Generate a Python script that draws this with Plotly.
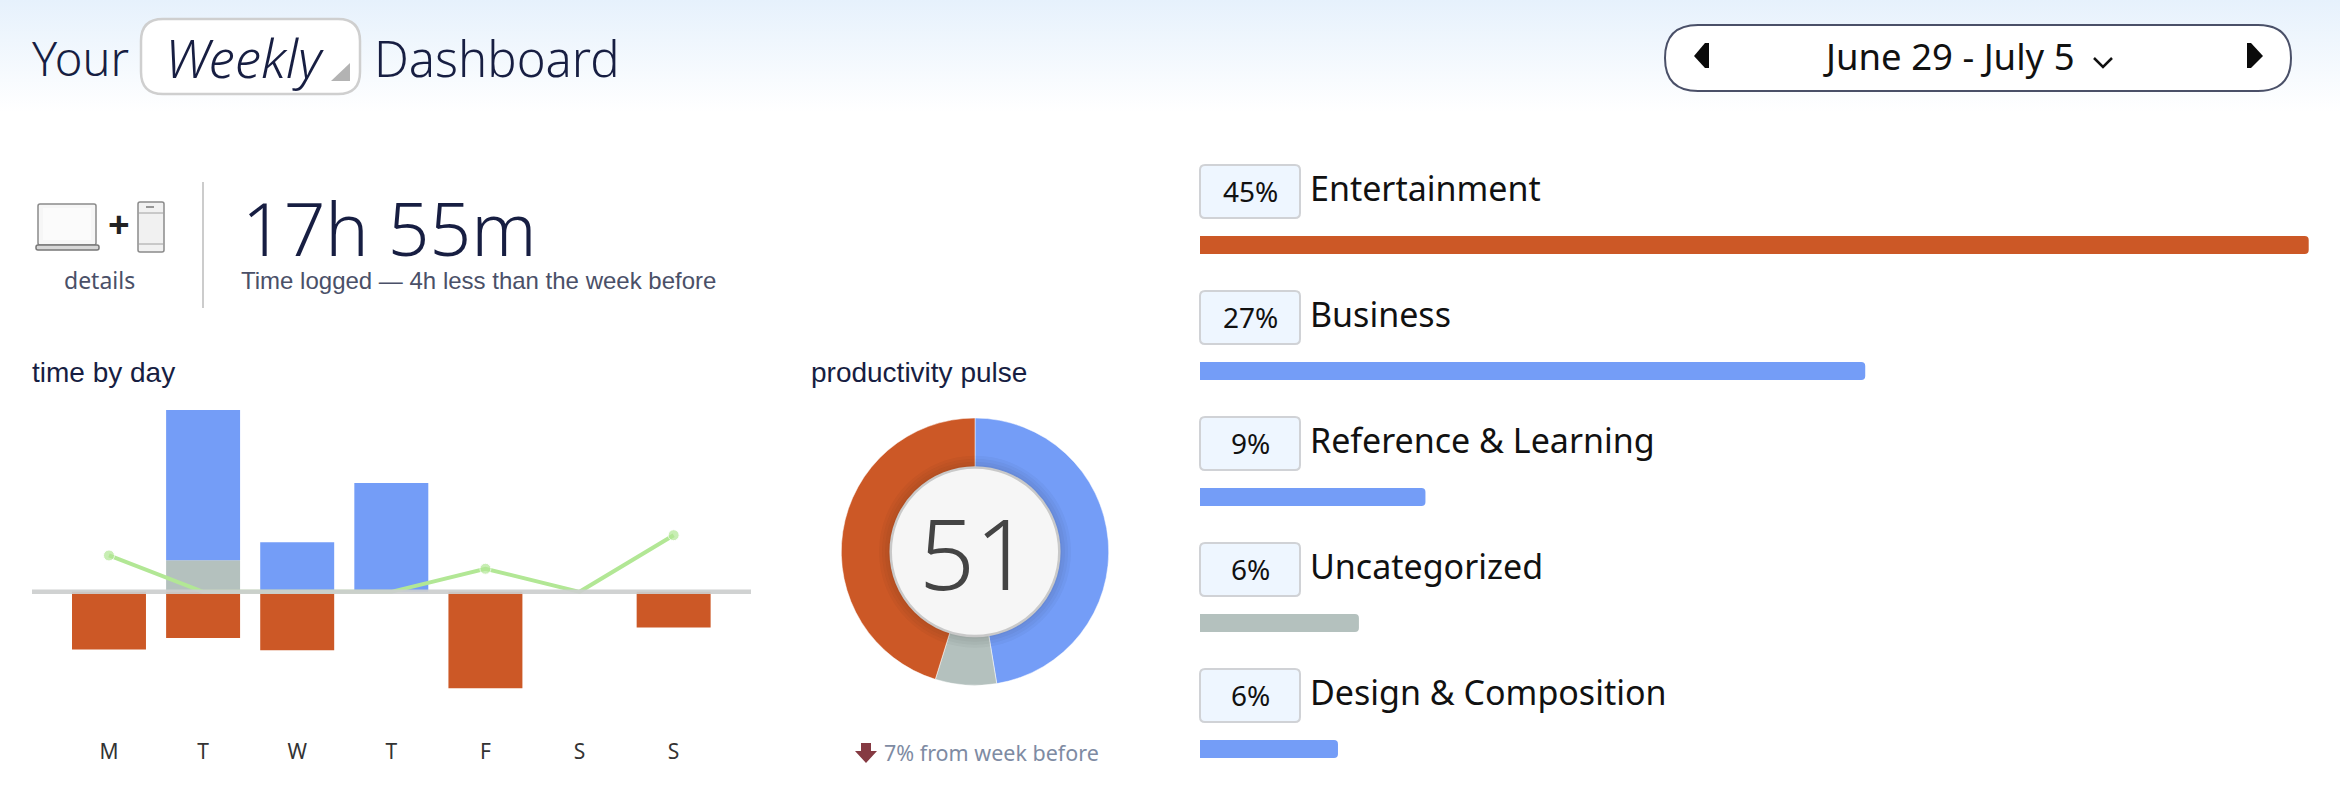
import plotly.graph_objects as go

# ---- data ----
days = ["M", "T", "W", "T", "F", "S", "S"]
productive_hours = [0, 4.30, 1.42, 3.11, 0, 0, 0]
neutral_hours = [0, 0.90, 0, 0, 0, 0, 0]
distracting_hours = [-1.65, -1.32, -1.67, 0, -2.76, 0, -1.02]
pulse_trend = [1.04, 0, 0, 0, 0.66, 0, 1.62]

pulse_labels = ["Productive", "Neutral", "Distracting"]
pulse_shares = [47.4, 7.4, 45.2]
pulse_score = 51

categories = ["Entertainment", "Business", "Reference & Learning", "Uncategorized", "Design & Composition"]
category_shares = [45, 27, 9.15, 6.45, 5.6]

# ---- styling ----
W, H = 2340, 794
BLUE, ORANGE, GREY, GREEN = "#749df7", "#cc5826", "#b4c1be", "#b2e795"
NAVY, SLATE = "#171e42", "#4a5068"
ROUND = "Noto Sans"
PLAIN = "Liberation Sans"
category_colors = [ORANGE, BLUE, BLUE, GREY, BLUE]


def rounded(x0, y0, x1, y1, r):
    return (f"M{x0+r},{y0} L{x1-r},{y0} Q{x1},{y0} {x1},{y0+r} L{x1},{y1-r} Q{x1},{y1} {x1-r},{y1} "
            f"L{x0+r},{y1} Q{x0},{y1} {x0},{y1-r} L{x0},{y0+r} Q{x0},{y0} {x0+r},{y0} Z")


shapes, notes = [], []


def path(d, fill="rgba(0,0,0,0)", line=None, width=0):
    shapes.append(dict(type="path", xref="x", yref="y", path=d, fillcolor=fill,
                       line=dict(color=line or "rgba(0,0,0,0)", width=width)))


def seg(x0, y0, x1, y1, color, width):
    shapes.append(dict(type="line", xref="x", yref="y", x0=x0, y0=y0, x1=x1, y1=y1,
                       line=dict(color=color, width=width)))


def circle(cx, cy, r, fill, line=None, width=0):
    shapes.append(dict(type="circle", xref="x", yref="y", x0=cx-r, y0=cy-r, x1=cx+r, y1=cy+r,
                       fillcolor=fill, line=dict(color=line or "rgba(0,0,0,0)", width=width)))


def text(x, y, s, size, color, family=ROUND, anchor="left", weight=None, style=None, box_height=None):
    font = dict(size=size, color=color, family=family)
    if weight:
        font["weight"] = weight
    if style:
        font["style"] = style
    note = dict(xref="x", yref="y", x=x, y=y, text=s, showarrow=False, xanchor=anchor,
                yanchor="middle", font=font, borderpad=0)
    if box_height:
        note["height"] = box_height
    notes.append(note)


# header
path(rounded(141, 19, 360, 94, 22), "#ffffff", "#cfcfcf", 2.5)
path("M350,63 L350,81 L331,81 Z", "#b3b3b3")
text(31, 58, "Your", 47, NAVY, weight=300)
text(164, 57, "Weekly", 53, NAVY, weight=300, style="italic")
text(373, 58, "Dashboard", 49, NAVY, weight=300)

path(rounded(1665, 25, 2291, 91, 33), "#ffffff", SLATE, 2)
path("M1709,43 L1709,68 L1705,68 L1694,56 L1705,43 Z", "#0a0a0a")
path("M2247,43 L2247,68 L2251,68 L2263,56 L2251,43 Z", "#0a0a0a")
text(1822, 56, "June 29 - July 5", 36.5, "#111111")
path("M2094,58 L2103,67 L2112,58", line="#111111", width=2.5)

# devices and total time
path(rounded(38, 204, 96, 245, 2), "#f6f6f6", "#8a8a8a", 1.5)
path("M43,240 L43,208 L91,208 L91,240 Z", "#fbfbfb")
path(rounded(36, 245, 99, 250, 2), "#d6d6d6", "#777777", 1.5)
path(rounded(138, 202, 164, 252, 2), "#f1f1f1", "#8a8a8a", 1.5)
seg(138, 213, 164, 213, "#a0a0a0", 1)
seg(138, 244, 164, 244, "#a0a0a0", 1)
seg(146, 207, 154, 207, "#777777", 1.5)
text(119, 223, "+", 38, "#222222", family="Open Sans", anchor="center", weight=700)
text(99, 280, "details", 23, SLATE, anchor="center")
seg(203, 182, 203, 308, "#cccccc", 2)
text(241, 227, "17h 55m", 73, NAVY, weight=300, box_height=62)
text(240, 280, "Time logged — 4h less than the week before", 24, SLATE, family=PLAIN)

# section headings
text(31, 372, "time by day", 28, NAVY, family=PLAIN)
text(810, 372, "productivity pulse", 28, NAVY, family=PLAIN)

# axis rule across the daily bars
shapes.append(dict(type="line", xref="x2 domain", yref="y2", x0=0, x1=1, y0=0, y1=0,
                   line=dict(color="rgba(204,206,206,0.92)", width=4.4)))

# donut centre
CX, CY, R_OUT, R_IN = 975, 551.7, 133.7, 84.3
for r in (96, 93, 90, 87):
    circle(CX, CY, r, "rgba(40,40,40,0.035)")
circle(CX, CY, R_IN, "#f6f6f6", "#c9c9c9", 2.5)
text(CX, CY, str(pulse_score), 98, "#444444", anchor="center", weight=300)
text(883, 752, "7% from week before", 21.5, "#7e8ba3")
path("M861,743 L871,743 L871,751 L877,751 L866,763 L855,751 L861,751 Z", "#853a42")

# category rows
for i, (name, share) in enumerate(zip(categories, category_shares)):
    top = 165 + 126 * i
    path(rounded(1200, top, 1300, top + 53, 5), "#eef6ff", "#d0d2d6", 2)
    text(1250, top + 26, f"{round(share)}%", 28, "#111111", anchor="center")
    text(1309, top + 23, name, 34, "#111111")

fig = go.Figure()

# pale header wash running from the top edge down to white
fig.add_trace(go.Scatter(
    x=[0, W, W, 0], y=[0, 0, 112, 112], fill="toself", mode="none", xaxis="x", yaxis="y",
    fillgradient=dict(type="vertical", colorscale=[[0, "#ffffff"], [1, "#e6f1fc"]]),
    showlegend=False, hoverinfo="skip",
))

# daily bars above and below the axis
x_idx = list(range(len(days)))
for vals, color in ((neutral_hours, GREY), (productive_hours, BLUE), (distracting_hours, ORANGE)):
    fig.add_trace(go.Bar(x=x_idx, y=vals, width=0.786, marker=dict(color=color, line=dict(width=0)),
                         xaxis="x2", yaxis="y2", showlegend=False))
fig.add_trace(go.Scatter(
    x=x_idx, y=pulse_trend, mode="lines+markers", xaxis="x2", yaxis="y2", showlegend=False,
    line=dict(color=GREEN, width=4),
    marker=dict(color=GREEN, size=[11 if v else 0 for v in pulse_trend]),
))

# share of time per category
fig.add_trace(go.Bar(
    y=categories, x=category_shares, orientation="h", width=18 / 126, xaxis="x3", yaxis="y3",
    marker=dict(color=category_colors, cornerradius=4, line=dict(width=0)), showlegend=False,
))

# productivity donut
fig.add_trace(go.Pie(
    labels=pulse_labels, values=pulse_shares, sort=False, direction="clockwise", rotation=0,
    hole=0.6, textinfo="none", showlegend=False,
    marker=dict(colors=[BLUE, GREY, ORANGE], line=dict(color="#ffffff", width=0.5)),
    domain=dict(x=[(CX - R_OUT) / W, (CX + R_OUT) / W], y=[1 - (CY + R_OUT) / H, 1 - (CY - R_OUT) / H]),
))

hidden = dict(visible=False, fixedrange=True)
fig.update_layout(
    width=W, height=H, margin=dict(l=0, r=0, t=0, b=0, autoexpand=False),
    paper_bgcolor="#ffffff", plot_bgcolor="rgba(0,0,0,0)", barmode="relative", hovermode=False,
    shapes=shapes, annotations=notes,
    xaxis=dict(hidden, domain=[0, 1], range=[0, W]),
    yaxis=dict(hidden, domain=[0, 1], range=[H, 0]),
    xaxis2=dict(domain=[32 / W, 751 / W], range=[-0.818, 6.822], anchor="y2", tickmode="array",
                tickvals=x_idx, ticktext=days, showgrid=False, zeroline=False, showline=False,
                ticks="outside", ticklen=1, tickcolor="rgba(0,0,0,0)",
                tickfont=dict(size=21, color="#333333", family=ROUND), fixedrange=True),
    yaxis2=dict(visible=False, domain=[1 - 732 / H, 1 - 400 / H], range=[-4.01, 5.487], fixedrange=True),
    xaxis3=dict(hidden, domain=[1200 / W, 1], range=[0, 46.27], anchor="y3"),
    yaxis3=dict(hidden, domain=[0, 1 - 182 / H], range=[4.357, -0.5], type="category", anchor="x3"),
)

fig.write_html("out.html", config=dict(displayModeBar=False))
